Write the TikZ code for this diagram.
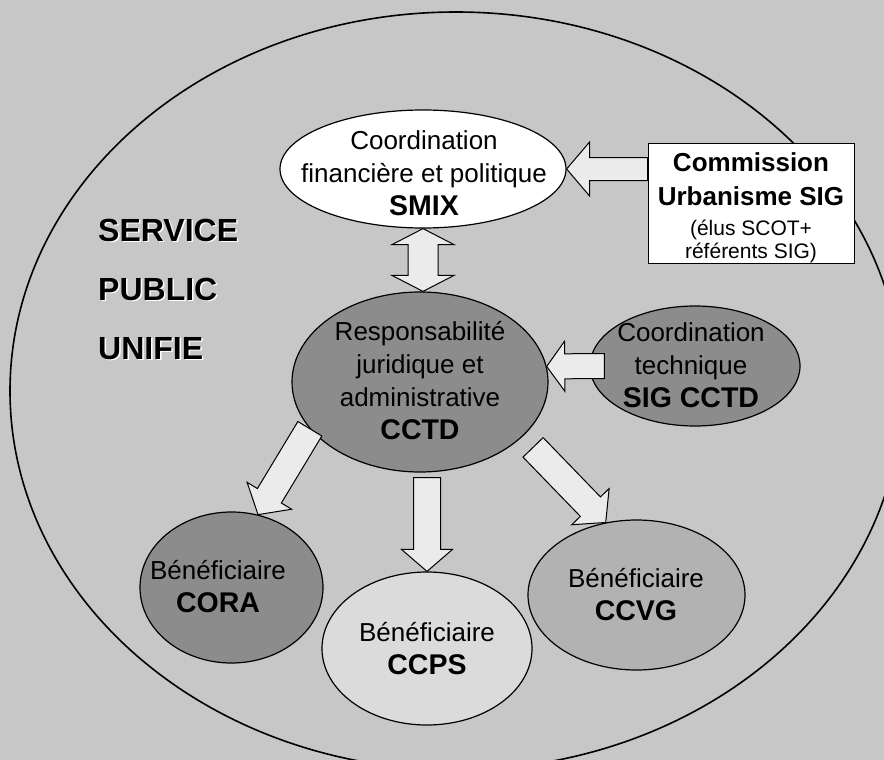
\documentclass[tikz,border=0pt]{standalone}
\usepackage{fontspec}
\setmainfont{Liberation Sans}
\usetikzlibrary{shapes.geometric,calc}

\definecolor{fond}{gray}{0.78}
\definecolor{fonce}{gray}{0.55}
\definecolor{moyen}{gray}{0.70}
\definecolor{clair}{gray}{0.86}
\definecolor{blanccasse}{gray}{0.92}

\newcommand\nom{\fontsize{28.5}{33}\selectfont\bfseries}
\newcommand\gras{\fontsize{26}{33}\selectfont\bfseries}

% block arrow: from #1 to #2, half shaft #3, half head #4, head length #5
\newcommand\grossefleche[5]{%
  \coordinate (fa-s) at #1;
  \coordinate (fa-t) at #2;
  \coordinate (fa-b) at ($(fa-t)!#5!(fa-s)$);
  \draw[fl] ($(fa-s)!#3!90:(fa-t)$) -- ($(fa-b)!#3!90:(fa-t)$) -- ($(fa-b)!#4!90:(fa-t)$) -- (fa-t)
    -- ($(fa-b)!#4!-90:(fa-t)$) -- ($(fa-b)!#3!-90:(fa-t)$) -- ($(fa-s)!#3!-90:(fa-t)$) -- cycle;
}
\newcommand\doublefleche[5]{%
  \coordinate (fa-s) at #1;
  \coordinate (fa-t) at #2;
  \coordinate (fa-b1) at ($(fa-s)!#5!(fa-t)$);
  \coordinate (fa-b2) at ($(fa-t)!#5!(fa-s)$);
  \draw[fl] (fa-s) -- ($(fa-b1)!#4!90:(fa-t)$) -- ($(fa-b1)!#3!90:(fa-t)$) -- ($(fa-b2)!#3!90:(fa-t)$)
    -- ($(fa-b2)!#4!90:(fa-t)$) -- (fa-t) -- ($(fa-b2)!#4!-90:(fa-t)$) -- ($(fa-b2)!#3!-90:(fa-t)$)
    -- ($(fa-b1)!#3!-90:(fa-t)$) -- ($(fa-b1)!#4!-90:(fa-t)$) -- cycle;
}

\tikzset{
  bubble/.style={ellipse, draw, line width=1.2pt, inner sep=0pt},
  txt/.style={align=center, inner sep=0pt, font=\fontsize{26}{33}\selectfont},
  titre/.style={anchor=north west, align=left, inner sep=0pt, font=\fontsize{32}{59}\selectfont\bfseries},
  fl/.style={draw, fill=blanccasse, line width=1pt, line join=miter}
}

\begin{document}
\begin{tikzpicture}[x=1pt,y=-1pt]
\useasboundingbox (0,0) rectangle (884,760);
\clip (0,0) rectangle (884,760);
\fill[fond] (0,0) rectangle (884,760);

\node[bubble, line width=1.6pt, minimum width=892pt, minimum height=758pt] (spu) at (456,391) {};
\node[titre, white] (spu-o) at (99.5,220) {SERVICE\\PUBLIC\\UNIFIE};
\node[titre] (spu-t) at (98,218.5) {SERVICE\\PUBLIC\\UNIFIE};

\node[bubble, fill=white, minimum width=286pt, minimum height=118pt] (smix) at (423,169) {};
\node[txt] (smix-t) at (424,173) {Coordination\\financière et politique\\{\nom SMIX}};

\node[draw, fill=white, line width=1pt, inner sep=0pt, minimum width=206pt, minimum height=120pt] (com) at (751,203) {};
\node[txt, font=\fontsize{21}{23}\selectfont] (com-t) at (751,208)
  {{\gras Commission}\\[11pt]{\gras Urbanisme SIG}\\[7pt](élus SCOT+\\référents SIG)};

\node[bubble, fill=fonce, minimum width=256pt, minimum height=180pt] (cctd) at (420,382) {};
\node[txt] (cctd-t) at (420,381) {Responsabilité\\juridique et\\administrative\\{\nom CCTD}};

\node[bubble, fill=fonce, minimum width=210pt, minimum height=120pt] (sig) at (695,366) {};
\node[txt] (sig-t) at (691,365) {Coordination\\technique\\{\nom SIG CCTD}};

\node[bubble, fill=fonce, minimum width=183pt, minimum height=151pt] (cora) at (231.5,587.5) {};
\node[txt] (cora-t) at (218,587) {Bénéficiaire\\{\nom CORA}};

\node[bubble, fill=clair, minimum width=210pt, minimum height=153pt] (ccps) at (427,648.5) {};
\node[txt] (ccps-t) at (427,649) {Bénéficiaire\\{\nom CCPS}};

\node[bubble, fill=moyen, minimum width=217pt, minimum height=150pt] (ccvg) at (636.5,595) {};
\node[txt] (ccvg-t) at (636,595) {Bénéficiaire\\{\nom CCVG}};

\grossefleche{(com.west |- smix.east)}{(smix.east)}{11.5pt}{27pt}{23pt}
\doublefleche{(smix.south)}{(smix.south |- cctd.north)}{15pt}{31pt}{16pt}
\grossefleche{($(sig.west)+(15,0)$)}{(cctd.7)}{12.5pt}{25pt}{18pt}
\grossefleche{(cctd.203)}{(cora.70)}{14pt}{26pt}{22pt}
\grossefleche{($(ccps.north |- cctd.south)+(0,5)$)}{(ccps.north)}{13.5pt}{25.5pt}{22pt}
\grossefleche{($(cctd.-28)!15pt!(ccvg.113)$)}{(ccvg.113)}{14pt}{26pt}{22pt}
\end{tikzpicture}
\end{document}
